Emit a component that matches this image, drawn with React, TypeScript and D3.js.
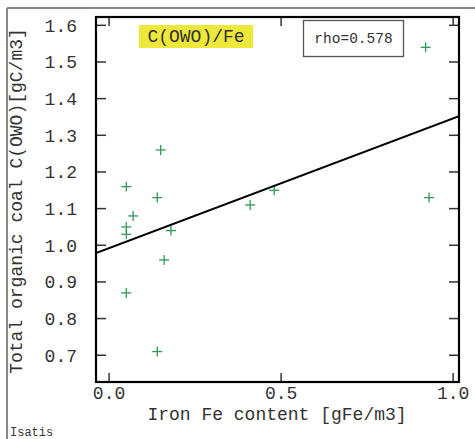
import React from "react";
import * as d3 from "d3";

const ironFe = [0.05, 0.05, 0.05, 0.05, 0.07, 0.14, 0.14, 0.15, 0.16, 0.18, 0.41, 0.48, 0.92, 0.93];
const carbon = [1.16, 1.05, 1.03, 0.87, 1.08, 0.71, 1.13, 1.26, 0.96, 1.04, 1.11, 1.15, 1.54, 1.13];
const xTicks = [0.0, 0.5, 1.0];
const yTicks = [0.7, 0.8, 0.9, 1.0, 1.1, 1.2, 1.3, 1.4, 1.5, 1.6];
const fitIntercept = 0.992;
const fitSlope = 0.354;
const title = "C(OWO)/Fe";
const rhoText = "rho=0.578";
const xLabel = "Iron Fe content [gFe/m3]";
const yLabel = "Total organic coal C(OWO)[gC/m3]";

const W = 475;
const H = 439;
const L = 96, R = 459, T = 17, B = 382;
const FONT = "'Liberation Mono', 'Courier New', monospace";

export default function App() {
  const x = d3.scaleLinear().domain([-0.038, 1.017]).range([L, R]);
  const y = d3.scaleLinear().domain([0.627, 1.6227]).range([B, T]);
  const [x0, x1] = x.domain();
  const line = d3.line<number>().x((d) => x(d)).y((d) => y(fitIntercept + fitSlope * d));
  const arm = 5;
  return (
    <svg width={W} height={H} style={{ position: "absolute", left: 0, top: 0, background: "#fff" }}>
      <defs>
        <clipPath id="plot">
          <rect x={L} y={T} width={R - L} height={B - T} />
        </clipPath>
      </defs>
      {/* outer frame */}
      <line x1={7} x2={W} y1={8} y2={8} stroke="#888" strokeWidth={2} />
      <line x1={7} x2={7} y1={8} y2={H} stroke="#888" strokeWidth={2} />

      {/* ticks */}
      {yTicks.map((t) => (
        <g key={"y" + t}>
          <line x1={L} x2={L + 10} y1={y(t)} y2={y(t)} stroke="#333" strokeWidth={1.5} />
          <line x1={R - 10} x2={R} y1={y(t)} y2={y(t)} stroke="#333" strokeWidth={1.5} />
          <text x={77} y={y(t)} dy="0.35em" textAnchor="end" fontFamily={FONT} fontSize={18} fill="#333">
            {t.toFixed(1)}
          </text>
        </g>
      ))}
      {xTicks.map((t) => (
        <g key={"x" + t}>
          <line x1={x(t)} x2={x(t)} y1={B} y2={B - 9} stroke="#333" strokeWidth={1.5} />
          <line x1={x(t)} x2={x(t)} y1={T} y2={T + 9} stroke="#333" strokeWidth={1.5} />
          <text x={x(t)} y={399} textAnchor="middle" fontFamily={FONT} fontSize={18} fill="#333">
            {t.toFixed(1)}
          </text>
        </g>
      ))}

      {/* title */}
      <rect x={139} y={25} width={114} height={23} fill="#ede83a" />
      <text x={196} y={42} textAnchor="middle" fontFamily={FONT} fontSize={18} fill="#333">
        {title}
      </text>

      {/* rho box */}
      <rect x={303.5} y={20.5} width={100} height={36} fill="#fff" stroke="#555" strokeWidth={1.3} />
      <text x={353.5} y={43} textAnchor="middle" fontFamily={FONT} fontSize={14.5} fill="#333">
        {rhoText}
      </text>

      {/* points */}
      <g stroke="#2e9a55" strokeWidth={1.3}>
        {ironFe.map((v, i) => (
          <g key={i}>
            <line x1={x(v) - arm} x2={x(v) + arm} y1={y(carbon[i])} y2={y(carbon[i])} />
            <line x1={x(v)} x2={x(v)} y1={y(carbon[i]) - arm} y2={y(carbon[i]) + arm} />
          </g>
        ))}
      </g>

      {/* regression line */}
      <path d={line([x0, x1]) || ""} fill="none" stroke="#000" strokeWidth={2} clipPath="url(#plot)" />

      {/* axes frame */}
      <rect x={L} y={T} width={R - L} height={B - T} fill="none" stroke="#000" strokeWidth={2.2} />

      {/* axis labels */}
      <text x={277} y={420} textAnchor="middle" fontFamily={FONT} fontSize={18} fill="#333">
        {xLabel}
      </text>
      <text
        transform={`translate(22,201) rotate(-90)`}
        textAnchor="middle"
        fontFamily={FONT}
        fontSize={18}
        fill="#333"
      >
        {yLabel}
      </text>

      <text x={10} y={436} fontFamily={FONT} fontSize={12} fill="#333">
        Isatis
      </text>
    </svg>
  );
}
